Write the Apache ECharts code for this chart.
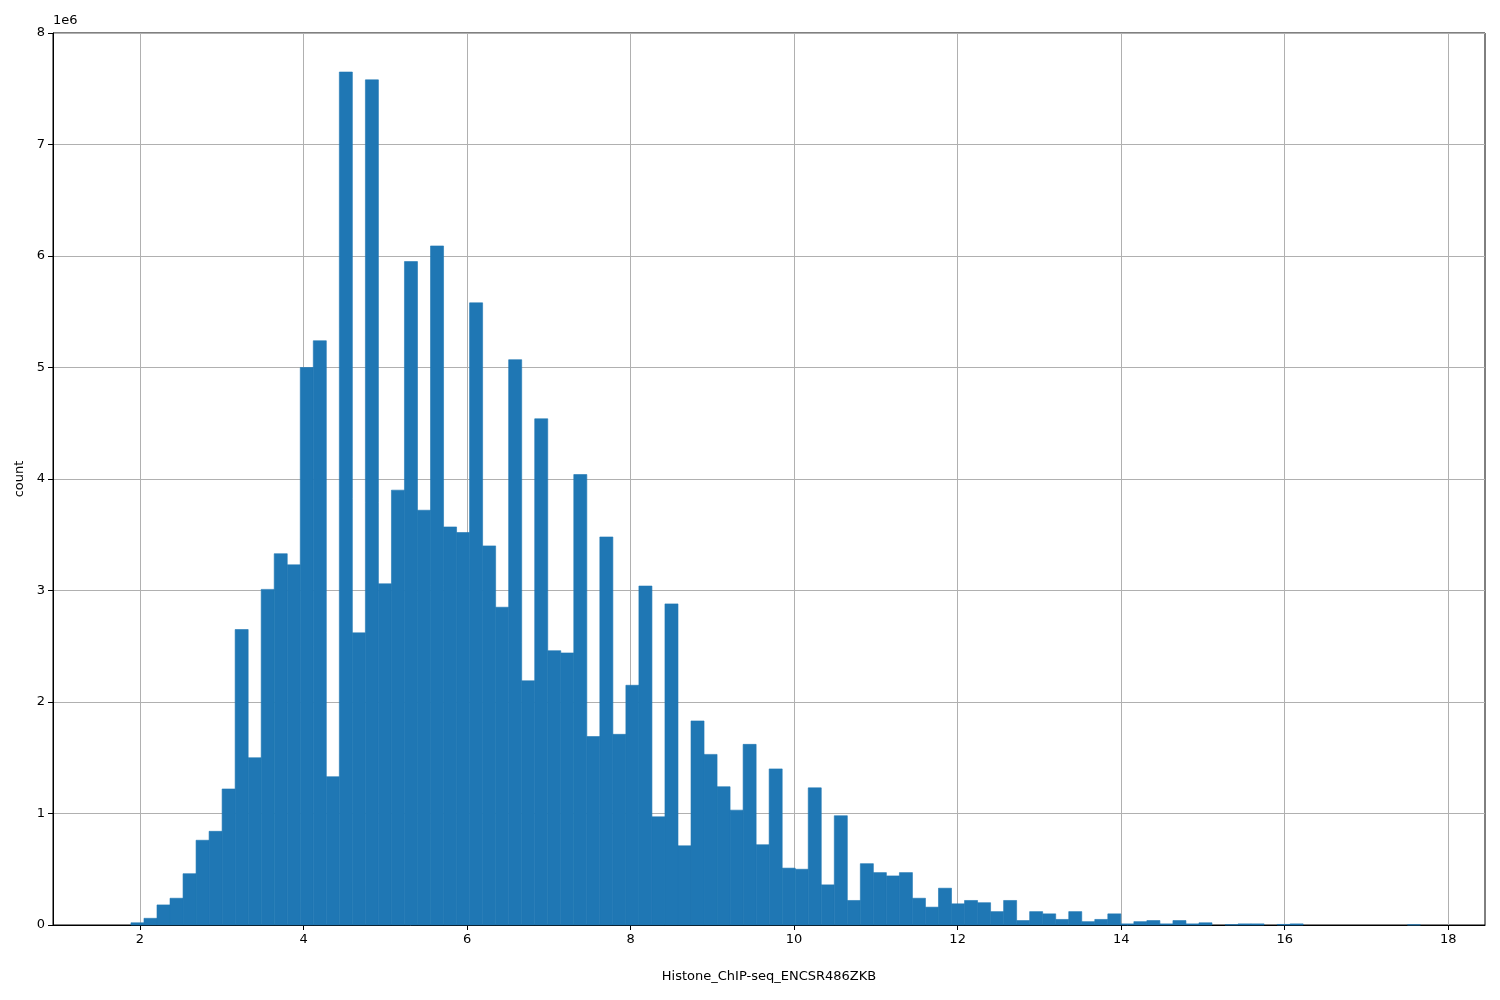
<!DOCTYPE html>
<html>
<head>
<meta charset="utf-8">
<script src="https://cdn.jsdelivr.net/npm/echarts@6/dist/echarts.min.js"></script>
<style>html,body{margin:0;background:#fff}#chart{width:1500px;height:1000px}</style>
</head>
<body>
<div id="chart"></div>
<script>
// histogram: 100 bins from binStart, width binWidth
var binStart = 1.73;
var binWidth = 0.1593;
// counts in units of 1e6
var counts = [
  0, 0.02, 0.06, 0.18, 0.24, 0.46, 0.76, 0.84, 1.22, 2.65,
  1.50, 3.01, 3.33, 3.23, 5.00, 5.24, 1.33, 7.65, 2.62, 7.58,
  3.06, 3.90, 5.95, 3.72, 6.09, 3.57, 3.52, 5.58, 3.40, 2.85,
  5.07, 2.19, 4.54, 2.46, 2.44, 4.04, 1.69, 3.48, 1.71, 2.15,
  3.04, 0.97, 2.88, 0.71, 1.83, 1.53, 1.24, 1.03, 1.62, 0.72,
  1.40, 0.51, 0.50, 1.23, 0.36, 0.98, 0.22, 0.55, 0.47, 0.44,
  0.47, 0.24, 0.16, 0.33, 0.19, 0.22, 0.20, 0.12, 0.22, 0.04,
  0.12, 0.10, 0.05, 0.12, 0.03, 0.05, 0.10, 0.01, 0.03, 0.04,
  0.01, 0.04, 0.01, 0.02, 0, 0.003, 0.01, 0.01, 0, 0.005,
  0.01, 0, 0, 0, 0, 0, 0, 0, 0, 0.002
];
var xTicks = [2, 4, 6, 8, 10, 12, 14, 16, 18];

var data = counts.map(function (c, i) {
  return [binStart + i * binWidth, binStart + (i + 1) * binWidth, c * 1e6];
});

var chart = echarts.init(document.getElementById('chart'));
chart.setOption({
  animation: false,
  grid: {left: 53, right: 15, top: 33, bottom: 75, show: true, borderColor: '#000', borderWidth: 1},
  graphic: [{type: 'text', left: 53, top: 14, style: {text: '1e6', font: '13px DejaVu Sans', fill: '#000'}}],
  xAxis: {
    type: 'value', min: 0.936, max: 18.45,
    name: 'Histone_ChIP-seq_ENCSR486ZKB', nameLocation: 'middle', nameGap: 45,
    nameTextStyle: {color: '#000', fontFamily: 'DejaVu Sans', fontSize: 13},
    axisLine: {show: true, onZero: false, lineStyle: {color: '#000'}},
    axisTick: {show: true, customValues: xTicks, length: 5, lineStyle: {color: '#000'}},
    axisLabel: {customValues: xTicks, color: '#000', fontFamily: 'DejaVu Sans', fontSize: 13, margin: 8},
    splitLine: {show: true, lineStyle: {color: '#b0b0b0'}}
  },
  yAxis: {
    type: 'value', min: 0, max: 8e6, interval: 1e6,
    name: 'count', nameLocation: 'middle', nameGap: 27,
    nameTextStyle: {color: '#000', fontFamily: 'DejaVu Sans', fontSize: 13},
    axisLine: {show: true, lineStyle: {color: '#000'}},
    axisTick: {show: true, length: 5, lineStyle: {color: '#000'}},
    axisLabel: {formatter: function (v) { return v / 1e6; }, color: '#000', fontFamily: 'DejaVu Sans', fontSize: 13, margin: 8},
    splitLine: {show: true, lineStyle: {color: '#b0b0b0'}}
  },
  series: [{
    type: 'custom',
    data: data,
    encode: {x: [0, 1], y: 2},
    renderItem: function (params, api) {
      if (api.value(2) <= 0) return null;
      var p0 = api.coord([api.value(0), api.value(2)]);
      var p1 = api.coord([api.value(1), 0]);
      return {
        type: 'rect',
        shape: {x: p0[0], y: p0[1], width: p1[0] - p0[0], height: p1[1] - p0[1]},
        style: {fill: '#1f77b4', stroke: '#1f77b4', lineWidth: 0.6}
      };
    }
  }]
});
</script>
</body>
</html>
